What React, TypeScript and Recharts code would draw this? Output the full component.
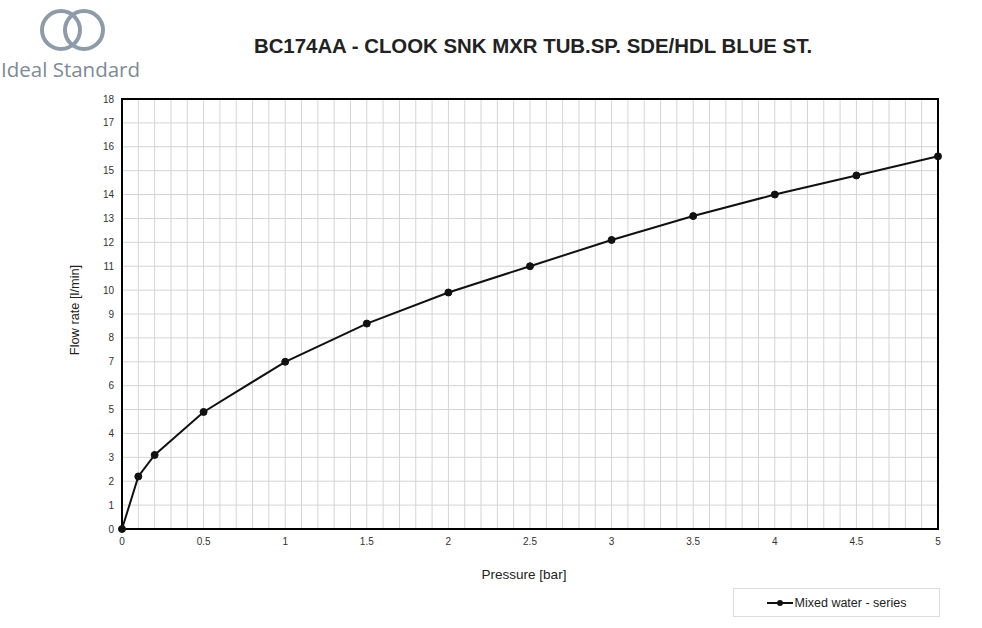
import { LineChart, Line, XAxis, YAxis, CartesianGrid, ReferenceArea } from 'recharts'

const pressure = [0, 0.1, 0.2, 0.5, 1, 1.5, 2, 2.5, 3, 3.5, 4, 4.5, 5]
const flowRate = [0, 2.2, 3.1, 4.9, 7.0, 8.6, 9.9, 11.0, 12.1, 13.1, 14.0, 14.8, 15.6]
const xTicks = [0, 0.5, 1, 1.5, 2, 2.5, 3, 3.5, 4, 4.5, 5]
const yTicks = [0, 1, 2, 3, 4, 5, 6, 7, 8, 9, 10, 11, 12, 13, 14, 15, 16, 17, 18]
const xGrid = Array.from({ length: 51 }, (_, i) => i / 10)

const data = pressure.map((p, i) => ({ p, q: flowRate[i] }))

const font = 'Liberation Sans, Arial, sans-serif'
const tick = { fill: '#333', fontSize: 10, fontFamily: font }

function LegendBox() {
  return (
    <div style={{
      position: 'absolute', left: 733, top: 588,
      width: 207, height: 29, border: '1px solid #ddd', boxSizing: 'border-box',
      display: 'flex', alignItems: 'center', justifyContent: 'center',
      fontFamily: font, fontSize: 12.5, color: '#222',
    }}>
      <svg width={26} height={10} style={{ marginRight: 2 }}>
        <line x1={0} y1={5} x2={26} y2={5} stroke="#111" strokeWidth={2} />
        <circle cx={13} cy={5} r={3} fill="#111" />
      </svg>
      Mixed water - series
    </div>
  )
}

export default function App() {
  return (
    <div style={{ position: 'absolute', left: 0, top: 0, width: 982, height: 628, background: '#fff' }}>
      <svg width={160} height={90} style={{ position: 'absolute', left: 0, top: 0 }}>
        <circle cx={61} cy={30} r={19} fill="none" stroke="#8e9ba8" strokeWidth={4} />
        <circle cx={84} cy={30} r={19} fill="none" stroke="#8e9ba8" strokeWidth={4} />
        <text x={1} y={77} fontFamily="Open Sans, sans-serif" fontSize={20.5} fill="#7d8a97">Ideal Standard</text>
      </svg>
      <div style={{
        position: 'absolute', left: 0, width: 1066, top: 35, textAlign: 'center',
        fontFamily: font, fontWeight: 'bold', fontSize: 20.4, color: '#222',
      }}>
        BC174AA - CLOOK SNK MXR TUB.SP. SDE/HDL BLUE ST.
      </div>
      <div style={{
        position: 'absolute', left: 0, width: 1048, top: 567, textAlign: 'center',
        fontFamily: font, fontSize: 13.5, color: '#222',
      }}>
        Pressure [bar]
      </div>
      <div style={{
        position: 'absolute', left: 74, top: 310, transform: 'translate(-50%, -50%) rotate(-90deg)',
        whiteSpace: 'nowrap', fontFamily: font, fontSize: 12.8, color: '#222',
      }}>
        Flow rate [l/min]
      </div>
      <LineChart width={982} height={628} data={data} style={{ position: 'absolute', left: 0, top: 0 }}
        margin={{ top: 99, right: 44, left: 92, bottom: 69 }}>
        <CartesianGrid stroke="#d4d4d4" strokeWidth={1} verticalValues={xGrid} horizontalValues={yTicks} />
        <XAxis dataKey="p" type="number" domain={[0, 5]} ticks={xTicks} height={30}
          tick={tick} tickSize={7} tickLine={false} axisLine={false} interval={0} />
        <YAxis type="number" domain={[0, 18]} ticks={yTicks} width={30}
          tick={tick} tickSize={6} tickLine={false} axisLine={false} interval={0} />
        <ReferenceArea x1={0} x2={5} y1={0} y2={18} fill="none" fillOpacity={0} stroke="#000" strokeWidth={2} />
        <Line dataKey="q" type="linear" stroke="#111" strokeWidth={2}
          dot={{ r: 3.5, fill: '#111', stroke: '#111', strokeWidth: 1 }}
          isAnimationActive={false} />
      </LineChart>
      <LegendBox />
    </div>
  )
}
